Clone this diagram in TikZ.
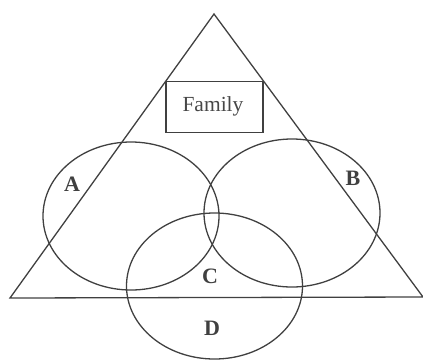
\documentclass[tikz,border=0pt]{standalone}
\usepackage{fontspec}
\setmainfont{Liberation Serif}
\begin{document}
\begin{tikzpicture}[x=1pt,y=-1pt,
  ln/.style={draw=black!75,line width=1.3pt},
  lbl/.style={font=\fontsize{22}{24}\selectfont\bfseries,text=black!75,inner sep=0pt},
  fam/.style={font=\fontsize{21.5}{24}\selectfont,text=black!72,inner sep=0pt}]
\useasboundingbox (0,0) rectangle (423,360);
\coordinate (apex) at (214,14);
\coordinate (bl) at (10,298);
\coordinate (br) at (423,297);
\draw[ln,line join=miter] (apex) -- (br) -- (bl) -- cycle;
\node[ln,minimum width=97pt,minimum height=51pt,inner sep=0pt] (box) at (214.5,107) {};
\node[fam] (family) at (213,106) {Family};
\draw[ln] (131,216) ellipse [x radius=88,y radius=74];
\draw[ln] (292,213) ellipse [x radius=88,y radius=74];
\draw[ln] (214.5,286) ellipse [x radius=88,y radius=73];
\node[lbl] (A) at (72,184) {A};
\node[lbl] (B) at (353,178) {B};
\node[lbl] (C) at (210,276) {C};
\node[lbl] (D) at (212,328) {D};
\end{tikzpicture}
\end{document}
